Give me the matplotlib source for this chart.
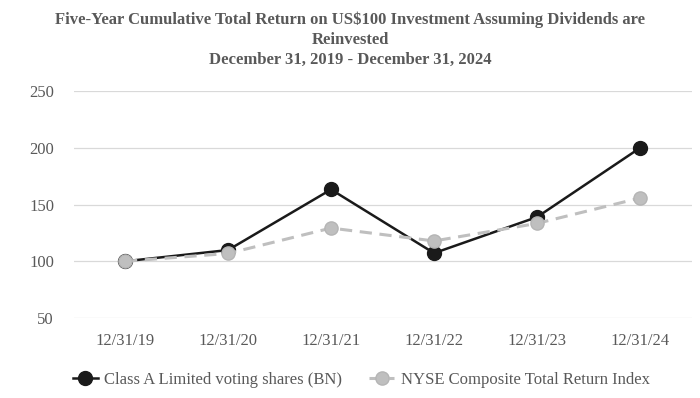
"""Five-year cumulative total return chart (BN vs NYSE Composite)."""

import matplotlib

matplotlib.use("Agg")
import matplotlib.pyplot as plt

dates = ["12/31/19", "12/31/20", "12/31/21", "12/31/22", "12/31/23", "12/31/24"]
bn_values = [100, 109.9, 163.3, 107.2, 139, 200]
nyse_values = [100, 106.9, 129.3, 117.9, 133.4, 155.8]
y_ticks = [50, 100, 150, 200, 250]

TEXT = "#595959"
SERIF = ["Liberation Serif", "DejaVu Serif"]

plt.rcParams["font.family"] = SERIF

fig = plt.figure(figsize=(7, 3.98), dpi=100)
ax = fig.add_axes([0.105, 0.201, 0.883, 0.570])

x = list(range(len(dates)))
ax.plot(x, bn_values, color="#1a1a1a", lw=1.8, marker="o", ms=10,
        mfc="#1a1a1a", mec="#1a1a1a", label="Class A Limited voting shares (BN)", zorder=3)
ax.plot(x, nyse_values, color="#bfbfbf", lw=2.2, ls=(0, (4, 2.5)), marker="o", ms=9.5,
        mfc="#bfbfbf", mec="#b5b5b5", label="NYSE Composite Total Return Index", zorder=4)

ax.set_xlim(-0.5, len(dates) - 0.5)
ax.set_ylim(50, 250)
ax.set_yticks(y_ticks)
ax.set_xticks(x)
ax.set_xticklabels(dates)
ax.grid(axis="y", color="#d9d9d9", lw=0.9)
ax.set_axisbelow(True)
for s in ax.spines.values():
    s.set_visible(False)
ax.tick_params(length=0, colors=TEXT, labelsize=12)
ax.tick_params(axis="x", pad=10.5)
ax.tick_params(axis="y", pad=14)

fig.text(0.5, 0.972, "Five-Year Cumulative Total Return on US$100 Investment Assuming Dividends are\n"
         "Reinvested\nDecember 31, 2019 - December 31, 2024",
         ha="center", va="top", fontsize=12, fontweight="bold", color=TEXT, linespacing=1.34)

fig.legend(loc="center", bbox_to_anchor=(0.516, 0.045), ncol=2, frameon=False,
           fontsize=12, labelcolor=TEXT, handlelength=1.5, columnspacing=1.6, handletextpad=0.4)

fig.savefig("out.png", dpi=100)
